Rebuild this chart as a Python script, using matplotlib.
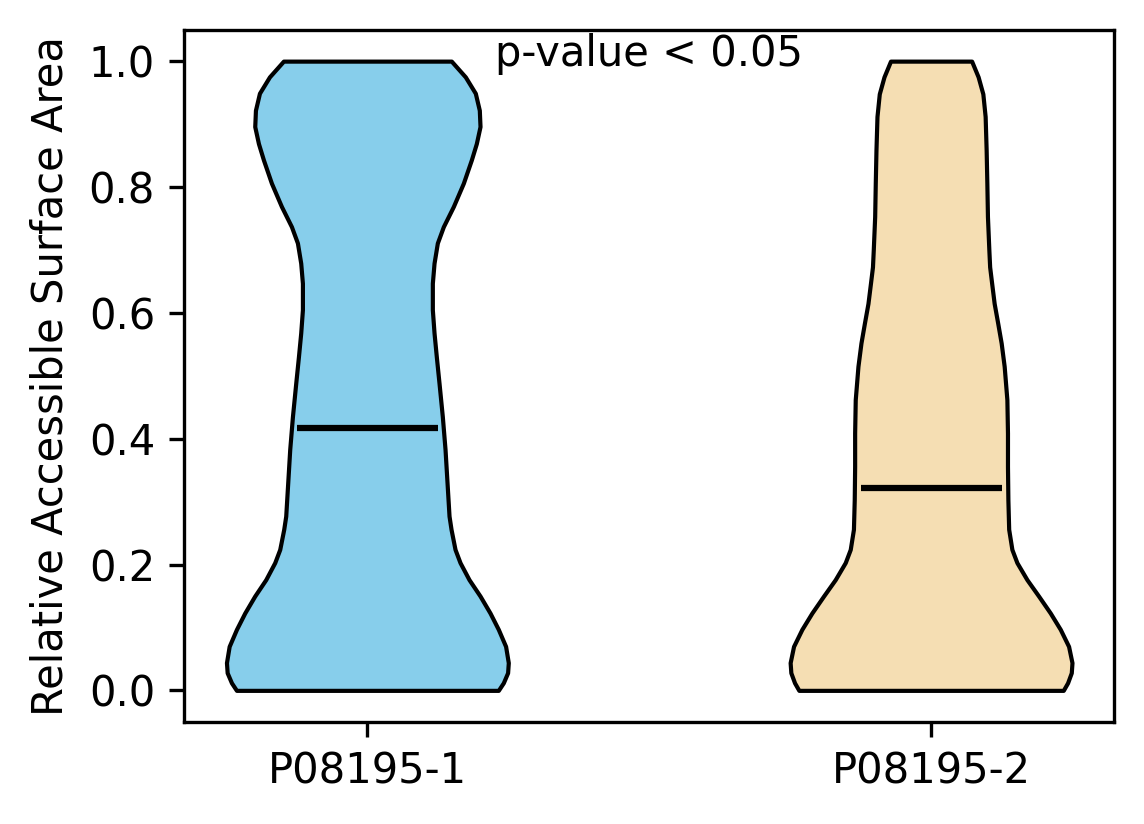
import matplotlib
matplotlib.use("Agg")
import matplotlib.pyplot as plt

# ---- data ----
categories = ["P08195-1", "P08195-2"]
colors = ["#87CEEB", "#F5DEB3"]

# density profile (relative half-width) along the value axis
v1_coords = [0.0, 0.012, 0.028, 0.044, 0.070, 0.097, 0.123, 0.150, 0.176, 0.203,
             0.224, 0.256, 0.277, 0.330, 0.383, 0.435, 0.488, 0.530, 0.568, 0.605,
             0.647, 0.679, 0.711, 0.737, 0.769, 0.806, 0.843, 0.869, 0.896, 0.922,
             0.949, 0.975, 1.0]
v1_density = [131, 136, 140.3, 141, 138.3, 131, 122.7, 112.7, 101.7, 92.7,
              87.7, 83.7, 81.7, 79.7, 77.7, 75, 71.7, 69, 66.7, 65,
              65, 66.7, 70, 76, 86, 96, 104, 109, 112.7, 112,
              108, 98, 84]

v2_coords = [0.0, 0.012, 0.028, 0.044, 0.070, 0.097, 0.123, 0.150, 0.176, 0.203,
             0.224, 0.256, 0.303, 0.356, 0.409, 0.462, 0.515, 0.552, 0.584, 0.615,
             0.647, 0.673, 0.700, 0.753, 0.806, 0.859, 0.912, 0.948, 0.975, 1.0]
v2_density = [132, 136.3, 140, 140.7, 137.3, 129, 119, 107.3, 95.7, 85.7,
              80.7, 77.5, 76.7, 76.3, 76.3, 75.7, 73, 70, 66.5, 63,
              60.5, 58.5, 57.7, 56.3, 55.7, 55, 54, 51.7, 47, 40.5]

medians = [0.417, 0.322]
means = [0.45, 0.36]
mins = [0.0, 0.0]
maxs = [1.0, 1.0]

annotation = "p-value < 0.05"
ylabel = "Relative Accessible Surface Area"

# ---- figure ----
fig = plt.figure(figsize=(1144 / 300, 824 / 300), dpi=300)
ax = fig.add_subplot(111)
fig.subplots_adjust(left=0.161, right=0.974, top=0.964, bottom=0.124)

coords_all = [v1_coords, v2_coords]
dens_all = [v1_density, v2_density]
vpstats = []
for i in range(len(categories)):
    vpstats.append({
        "coords": coords_all[i],
        "vals": dens_all[i],
        "mean": means[i],
        "median": medians[i],
        "min": mins[i],
        "max": maxs[i],
    })

positions = [1, 2]
parts = ax.violin(vpstats, positions=positions, widths=0.5,
                  showmeans=False, showextrema=False, showmedians=True)
for body, c in zip(parts["bodies"], colors):
    body.set_facecolor(c)
    body.set_edgecolor("black")
    body.set_alpha(1)
    body.set_linewidth(1.0)
    body.set_joinstyle("round")
parts["cmedians"].set_color("black")
parts["cmedians"].set_linewidth(1.5)

ax.set_xticks(positions)
ax.set_xticklabels(categories, fontsize=10)
ax.set_ylabel(ylabel, fontsize=10)
ax.tick_params(labelsize=10)

ax.text(1.5, 0.992, annotation, ha="center", va="baseline", fontsize=10)

fig.savefig("out.png", dpi=300)
